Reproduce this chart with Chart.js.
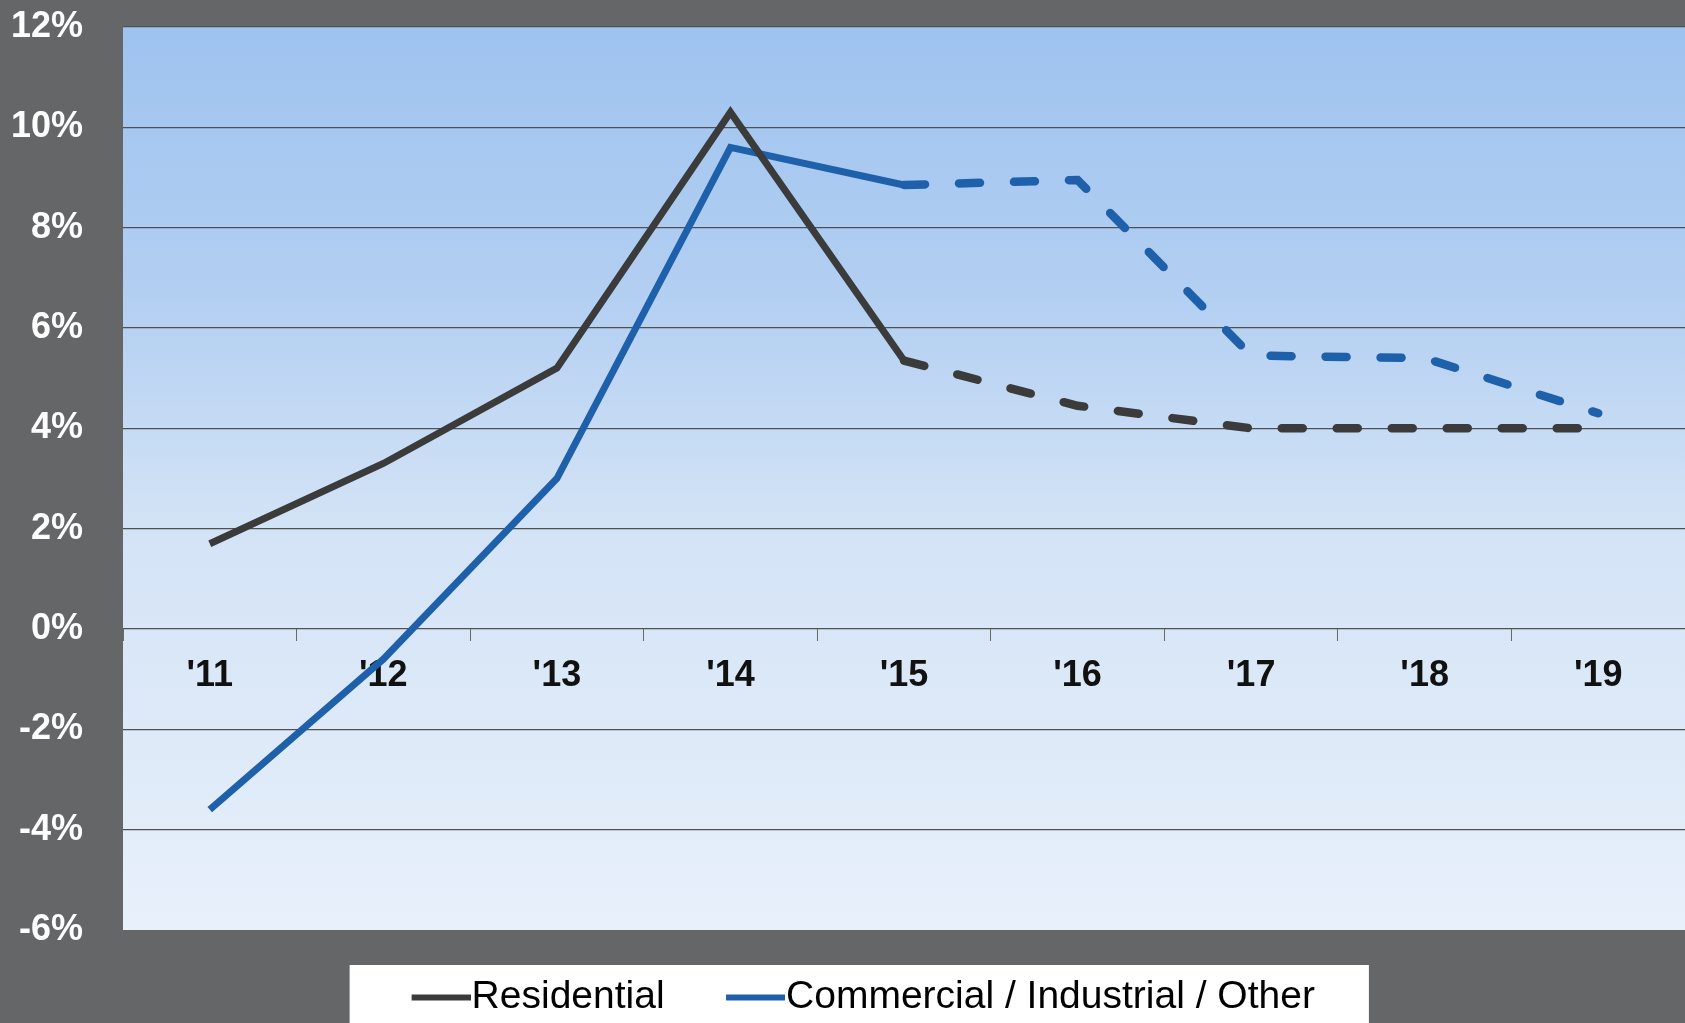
<!DOCTYPE html>
<html>
<head>
<meta charset="utf-8">
<title>Growth by customer class</title>
<script src="https://cdn.jsdelivr.net/npm/chart.js@4.4.0/dist/chart.umd.min.js"></script>
<style>
  html, body { margin: 0; padding: 0; background: #656668; overflow: hidden; }
  #wrap { position: relative; width: 1685px; height: 1023px; }
</style>
</head>
<body>
<div id="wrap"><canvas id="chart"></canvas></div>
<script>
// ─── data ───
var YEARS = ["'11", "'12", "'13", "'14", "'15", "'16", "'17", "'18", "'19"];
var RESIDENTIAL = [1.7, 3.3, 5.2, 10.3, 5.35, 4.45, 4.0, 4.0, 4.0];
var COMMERCIAL = [-3.6, -0.6, 3.0, 9.6, 8.85, 8.95, 5.45, 5.4, 4.3];
var SERIES_LABELS = ['Residential', 'Commercial / Industrial / Other'];
var SERIES_COLORS = ['#3a3b3a', '#1f60aa'];
var Y_MIN = -6, Y_MAX = 12, Y_STEP = 2;
var FORECAST_FROM = 4; // dashed from '15 on

var FONT = "'Liberation Sans', Arial, Helvetica, sans-serif";
var LEGEND_FONT = 39;
var LEGEND_PAD = 44;
var LEGEND_BOX = 58;      // pointStyleWidth given to the legend
var LEGEND_SHIFT = 12;    // legend sits a bit right of centre
var LEGEND_DROP = 4;      // and a touch lower

function isForecast(ctx) { return ctx.p0DataIndex >= FORECAST_FROM; }

// legend sample: a 60px line that ends right where the text starts
function legendLine(color) {
  var half = LEGEND_FONT / 2;
  var textAt = LEGEND_BOX + half;          // text start, relative to item x
  var lineEnd = textAt - 1, lineStart = textAt - 60;
  var center = LEGEND_BOX / 2;
  var w = Math.ceil(2 * Math.max(center - lineStart, lineEnd - center));
  var c = document.createElement('canvas');
  c.width = w; c.height = 10;
  var g = c.getContext('2d');
  g.fillStyle = color;
  var off = w / 2 - center;
  g.fillRect(lineStart + off, 2, lineEnd - lineStart, 6);
  return c;
}

// grey page, gradient plot area, white legend frame
var backdrop = {
  id: 'backdrop',
  afterLayout: function (chart) {
    var lg = chart.legend;
    if (lg) {
      lg.left += LEGEND_SHIFT; lg.right += LEGEND_SHIFT;
      lg.top += LEGEND_DROP; lg.bottom += LEGEND_DROP;
    }
  },
  beforeDraw: function (chart) {
    var ctx = chart.ctx, a = chart.chartArea;
    ctx.save();
    ctx.fillStyle = '#656668';
    ctx.fillRect(0, 0, chart.width, chart.height);

    var g = ctx.createLinearGradient(0, a.top, 0, a.bottom);
    g.addColorStop(0, '#9ec3ef');
    g.addColorStop(0.3, '#b3cff2');
    g.addColorStop(0.55, '#d3e3f6');
    g.addColorStop(1, '#e8f0fb');
    ctx.fillStyle = g;
    ctx.fillRect(a.left, a.top, a.right - a.left, a.bottom - a.top);

    var lg = chart.legend;
    if (lg && lg.lineWidths) {
      var lw = lg.lineWidths[0];
      var start = (lg.left + LEGEND_PAD + lg.right - lw) / 2;
      var lineStart = start + LEGEND_BOX + LEGEND_FONT / 2 - 60;
      var l = lineStart - 62;
      var r = start + lw - LEGEND_PAD + 54;
      ctx.fillStyle = '#ffffff';
      ctx.fillRect(l, 965, r - l, chart.height - 965);
    }
    ctx.restore();
  }
};

function series(i, values) {
  return {
    label: SERIES_LABELS[i],
    data: values,
    borderColor: SERIES_COLORS[i],
    backgroundColor: SERIES_COLORS[i],
    borderWidth: 7,
    pointRadius: 0,
    pointStyle: legendLine(SERIES_COLORS[i]),
    tension: 0,
    borderJoinStyle: 'miter',
    segment: {
      borderDash: function (ctx) { return isForecast(ctx) ? [21, 34] : undefined; },
      borderWidth: function (ctx) { return isForecast(ctx) ? 8.5 : 7; },
      borderCapStyle: function (ctx) { return isForecast(ctx) ? 'round' : 'butt'; }
    }
  };
}

new Chart(document.getElementById('chart'), {
  type: 'line',
  data: {
    labels: YEARS,
    datasets: [series(0, RESIDENTIAL), series(1, COMMERCIAL)]
  },
  options: {
    responsive: true,
    maintainAspectRatio: false,
    animation: false,
    layout: { padding: { top: 27, left: 0, right: 0, bottom: 0 } },
    plugins: {
      legend: {
        position: 'bottom',
        labels: {
          color: '#000',
          font: { family: FONT, size: LEGEND_FONT },
          usePointStyle: true,
          pointStyleWidth: LEGEND_BOX,
          padding: LEGEND_PAD
        }
      },
      tooltip: { enabled: false }
    },
    scales: {
      x: {
        type: 'category',
        position: { y: 0 },
        offset: true,
        border: { display: false },
        grid: {
          display: true,
          offset: true,
          drawOnChartArea: false,
          drawTicks: true,
          tickLength: 12,
          color: '#6a6a6a'
        },
        ticks: {
          color: '#111',
          font: { family: FONT, size: 36, weight: 'bold' },
          padding: 13,
          maxRotation: 0
        }
      },
      y: {
        min: Y_MIN,
        max: Y_MAX,
        border: { display: false },
        grid: {
          drawTicks: true,
          tickLength: 40,
          tickColor: 'rgba(0,0,0,0)',
          lineWidth: 1.3,
          color: function (c) { return c.tick && c.tick.value === Y_MIN ? 'rgba(0,0,0,0)' : '#505152'; }
        },
        ticks: {
          stepSize: Y_STEP,
          color: '#ffffff',
          font: { family: FONT, size: 36, weight: 'bold' },
          padding: 0,
          callback: function (v) { return v + '%'; }
        },
        afterFit: function (scale) { scale.width = 123; }
      }
    }
  },
  plugins: [backdrop]
});
</script>
</body>
</html>
